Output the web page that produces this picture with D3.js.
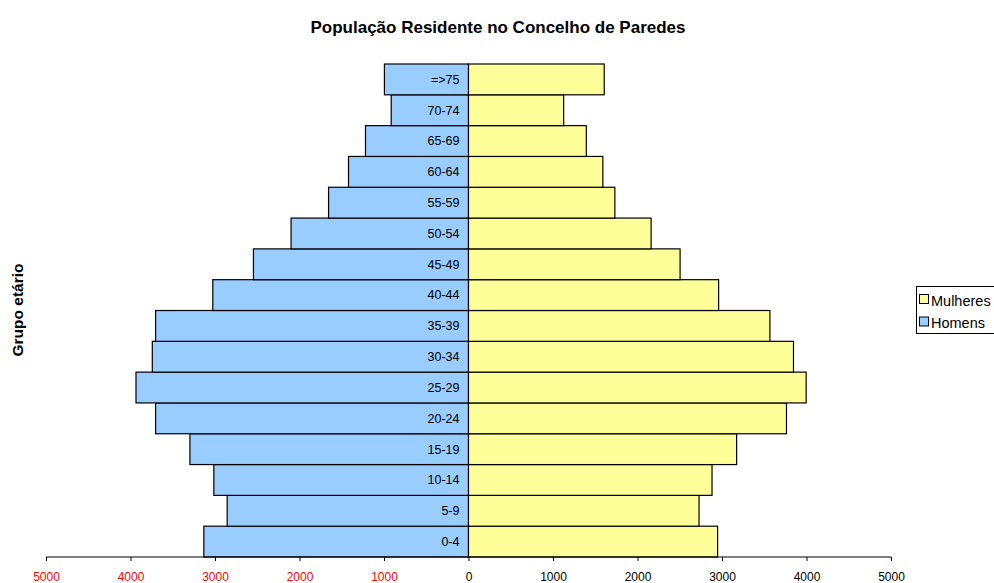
<!DOCTYPE html>
<html>
<head>
<meta charset="utf-8">
<script src="https://cdn.jsdelivr.net/npm/d3@7"></script>
<style>
  body { margin: 0; background: #fff; }
  svg { display: block; font-family: "Liberation Sans", Arial, sans-serif; }
</style>
</head>
<body>
<svg id="chart" width="994" height="583"></svg>
<script>
const categories = ["0-4","5-9","10-14","15-19","20-24","25-29","30-34","35-39","40-44","45-49","50-54","55-59","60-64","65-69","70-74","=>75"];
const homens   = [3132, 2856, 3014, 3297, 3703, 3935, 3742, 3703, 3026, 2545, 2100, 1656, 1420, 1219, 915, 995];
const mulheres = [2948, 2728, 2882, 3173, 3763, 3996, 3846, 3567, 2960, 2504, 2161, 1732, 1590, 1394, 1126, 1606];
const tickValues = [-5000, -4000, -3000, -2000, -1000, 0, 1000, 2000, 3000, 4000, 5000];
const seriesNames = ["Mulheres", "Homens"];
const chartTitle = "População Residente no Concelho de Paredes";
const yTitle = "Grupo etário";

const colors = { Homens: "#99CCFF", Mulheres: "#FFFF99" };

const svg = d3.select("#chart");
const mLeft = 46, mRight = 891, mTop = 64, mBottom = 557;

const x = d3.scaleLinear().domain([-5000, 5000]).range([mLeft, mRight]);
const y = d3.scaleBand().domain(categories.slice().reverse()).range([mTop, mBottom]).padding(0);

// title
svg.append("text").attr("x", 498).attr("y", 33).attr("text-anchor", "middle")
  .attr("font-size", 17).attr("font-weight", "bold").text(chartTitle);

// y title
svg.append("text").attr("transform", "translate(23,310) rotate(-90)")
  .attr("text-anchor", "middle").attr("font-size", 15.5).attr("font-weight", "bold").text(yTitle);

const g = svg.append("g");
// Homens bars (left)
g.selectAll("rect.h").data(categories).enter().append("rect").attr("class", "h")
  .attr("x", (d, i) => x(-homens[i]))
  .attr("y", d => y(d))
  .attr("width", (d, i) => x(0) - x(-homens[i]))
  .attr("height", y.bandwidth())
  .attr("fill", colors.Homens).attr("stroke", "#000").attr("stroke-width", 1.2);

// Mulheres bars (right)
g.selectAll("rect.m").data(categories).enter().append("rect").attr("class", "m")
  .attr("x", x(0))
  .attr("y", d => y(d))
  .attr("width", (d, i) => x(mulheres[i]) - x(0))
  .attr("height", y.bandwidth())
  .attr("fill", colors.Mulheres).attr("stroke", "#000").attr("stroke-width", 1.2);

// category labels
g.selectAll("text.cat").data(categories).enter().append("text").attr("class", "cat")
  .attr("x", x(0) - 9)
  .attr("y", d => y(d) + y.bandwidth() / 2)
  .attr("dy", "0.35em")
  .attr("text-anchor", "end").attr("font-size", 12.5).attr("fill", "#000")
  .text(d => d);

// x axis
const xAxis = d3.axisBottom(x).tickValues(tickValues).tickSize(4).tickPadding(11)
  .tickFormat(d => Math.abs(d));
const ax = svg.append("g").attr("transform", `translate(0,${mBottom})`).call(xAxis);
ax.select(".domain").attr("stroke", "#000").attr("stroke-width", 1.2).attr("d", `M${mLeft},0H${mRight}`);
ax.selectAll(".tick line").attr("stroke", "#000");
ax.selectAll(".tick text").attr("font-size", 12)
  .attr("font-family", "'Liberation Sans', Arial, sans-serif")
  .attr("fill", d => d < 0 ? "#FF0000" : "#000");

// legend
const lg = svg.append("g");
lg.append("rect").attr("x", 916.5).attr("y", 286.5).attr("width", 90).attr("height", 47)
  .attr("fill", "#fff").attr("stroke", "#000").attr("stroke-width", 1);
seriesNames.forEach((s, i) => {
  const cy = 300 + i * 22.5;
  lg.append("rect").attr("x", 919.5).attr("y", cy - 5.5).attr("width", 9).attr("height", 9)
    .attr("fill", colors[s]).attr("stroke", "#000").attr("stroke-width", 1);
  lg.append("text").attr("x", 931).attr("y", cy).attr("dy", "0.38em")
    .attr("font-size", 14.5).text(s);
});
</script>
</body>
</html>
